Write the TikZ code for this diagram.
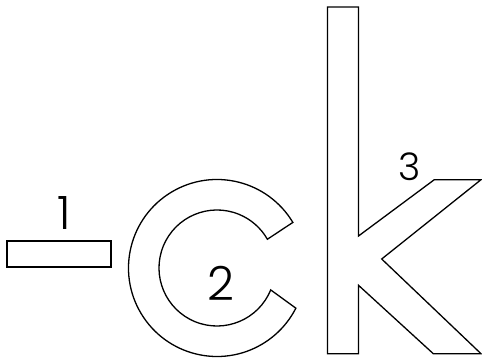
\documentclass[tikz,border=0pt]{standalone}
\usepackage{fontspec}
\newfontfamily\digitfont{Poppins Light}
\usetikzlibrary{calc}
\tikzset{outline/.style={line width=1.3pt,line join=miter},digit/.style={inner sep=0pt,font=\digitfont}}

\begin{document}
\begin{tikzpicture}[x=1pt,y=1pt]
\useasboundingbox (0,0) rectangle (482,358);
\draw[outline] (7,91) rectangle (111,117);\node[digit,font=\digitfont\fontsize{46}{46}\selectfont] (one) at (64,145){1};
\coordinate (ctr) at (217,90);
\draw[outline] ($(ctr)+(31:88.5)$) arc[start angle=31,end angle=333,radius=88.5] -- ($(ctr)+(-22.2:58)$) arc[start angle=337.8,end angle=29.7,radius=58] -- cycle;
\node[digit,font=\digitfont\fontsize{47}{47}\selectfont] (two) at (221,75){2};
\draw[outline] (327.5,351) -- (358.5,351) -- (358.5,122) -- (434.3,178.3) -- (481,178.3) -- (381.7,99) -- (481,4.3) -- (433.3,4.3) -- (358.5,72.7) -- (358.5,4.3) -- (327.5,4.3) -- cycle;
\node[digit,font=\digitfont\fontsize{38}{38}\selectfont] (three) at (409.5,191.5){3};
\end{tikzpicture}
\end{document}
